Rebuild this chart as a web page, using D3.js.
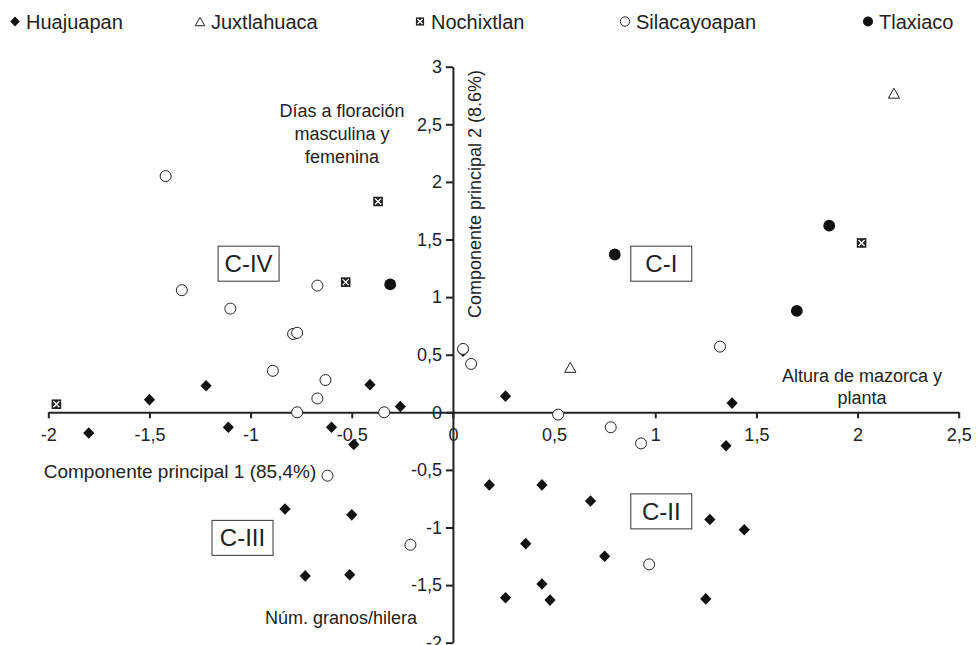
<!DOCTYPE html>
<html>
<head>
<meta charset="utf-8">
<script src="https://cdn.jsdelivr.net/npm/d3@7"></script>
<style>
  body { margin: 0; background: #fff; }
  svg text { font-family: "Liberation Sans", Arial, sans-serif; fill: #222; }
</style>
</head>
<body>
<div class="visHolder"></div>
<script>
// Series (PC1, PC2)
const huajuapan = [
  [-1.80, -0.18], [-1.50, 0.11], [-1.22, 0.23], [-1.11, -0.13], [-0.83, -0.84],
  [-0.73, -1.42], [-0.60, -0.13], [-0.51, -1.41], [-0.50, -0.89], [-0.49, -0.28],
  [-0.41, 0.24], [-0.26, 0.05], [0.05, 0.53], [0.18, -0.63], [0.26, 0.14],
  [0.26, -1.61], [0.36, -1.14], [0.44, -1.49], [0.44, -0.63], [0.48, -1.63],
  [0.68, -0.77], [0.75, -1.25], [1.25, -1.62], [1.27, -0.93], [1.35, -0.29],
  [1.38, 0.08], [1.44, -1.02]
];
const juxtlahuaca = [[0.58, 0.39], [2.18, 2.77]];
const nochixtlan = [[-1.96, 0.07], [-0.37, 1.83], [-0.53, 1.13], [2.02, 1.47]];
const silacayoapan = [
  [-1.42, 2.05], [-1.34, 1.06], [-1.10, 0.90], [-0.79, 0.68], [-0.77, 0.69],
  [-0.67, 1.10], [-0.89, 0.36], [-0.63, 0.28], [-0.67, 0.12], [-0.77, 0.00],
  [-0.34, 0.00], [0.05, 0.55], [0.09, 0.42], [0.52, -0.02], [0.78, -0.13],
  [0.93, -0.27], [1.32, 0.57], [-0.62, -0.55], [-0.21, -1.15], [0.97, -1.32]
];
const tlaxiaco = [[-0.31, 1.11], [0.80, 1.37], [1.86, 1.62], [1.70, 0.88]];

const seriesNames = ["Huajuapan", "Juxtlahuaca", "Nochixtlan", "Silacayoapan", "Tlaxiaco"];
const seriesData = [huajuapan, juxtlahuaca, nochixtlan, silacayoapan, tlaxiaco];

const xTicks = [-2, -1.5, -1, -0.5, 0, 0.5, 1, 1.5, 2, 2.5];
const yTicks = [-2, -1.5, -1, -0.5, 0, 0.5, 1, 1.5, 2, 2.5, 3];

const quadrantNames = ["C-IV", "C-I", "C-III", "C-II"];
const quadrantCenters = [[-1.01, 1.29], [1.03, 1.29], [-1.04, -1.09], [1.03, -0.86]];

const width = 977, height = 645;

const svg = d3.select(".visHolder").append("svg")
    .attr("width", width)
    .attr("height", height);

// Scales
const x = d3.scaleLinear().domain([-2, 2.5]).range([48.3, 958.7]);
const y = d3.scaleLinear().domain([-2, 3]).range([642.7, 66.7]);

const fmt = d => String(d).replace(".", ",");

// Axes crossing at the origin
const xAxis = d3.axisBottom(x).tickValues(xTicks).tickFormat(fmt)
    .tickSizeInner(6).tickSizeOuter(0).tickPadding(10);
const yAxis = d3.axisLeft(y).tickValues(yTicks).tickFormat(fmt)
    .tickSizeInner(7).tickSizeOuter(0).tickPadding(4);

const gx = svg.append("g")
    .attr("transform", "translate(0," + y(0) + ")")
    .call(xAxis);
const gy = svg.append("g")
    .attr("transform", "translate(" + x(0) + ",0)")
    .call(yAxis);

[gx, gy].forEach(g => {
  g.select(".domain").attr("stroke", "#222").attr("stroke-width", 2);
  g.selectAll(".tick line").attr("stroke", "#222").attr("stroke-width", 2);
  g.selectAll(".tick text").style("font-size", "18px").attr("fill", "#222");
});

// Axis titles and loading annotations
svg.append("text")
    .attr("transform", "translate(481,194) rotate(-90)")
    .attr("text-anchor", "middle")
    .style("font-size", "18px")
    .text("Componente principal 2 (8.6%)");

svg.append("text")
    .attr("x", 180).attr("y", 478)
    .attr("text-anchor", "middle")
    .style("font-size", "19px")
    .text("Componente principal 1 (85,4%)");

function multiLine(lines, cx, y0, lh) {
  const t = svg.append("text")
      .attr("text-anchor", "middle")
      .style("font-size", "18px");
  lines.forEach((l, i) => {
    t.append("tspan").attr("x", cx).attr("y", y0 + i * lh).text(l);
  });
}
multiLine(["Días a floración", "masculina y", "femenina"], 342, 117, 23);
multiLine(["Altura de mazorca y", "planta"], 862, 382, 22);
multiLine(["Núm. granos/hilera"], 341, 624, 22);

// Quadrant boxes
const qg = svg.selectAll(".quad")
    .data(quadrantNames)
    .enter().append("g")
    .attr("class", "quad")
    .attr("transform", (d, i) => "translate(" + x(quadrantCenters[i][0]) + "," + y(quadrantCenters[i][1]) + ")");
qg.append("rect")
    .attr("x", -30.5).attr("y", -17.5)
    .attr("width", 61).attr("height", 35)
    .attr("fill", "#fff").attr("stroke", "#333").attr("stroke-width", 1);
qg.append("text")
    .attr("text-anchor", "middle")
    .attr("y", 8.5)
    .style("font-size", "24px")
    .text(d => d);

// Marker drawers
function drawMarker(g, name, s) {
  if (name === "Huajuapan") {
    const w = 5.6 * s, h = 5.8 * s;
    g.append("path").attr("d", `M0,${-h}L${w},0L0,${h}L${-w},0Z`).attr("fill", "#111");
  } else if (name === "Juxtlahuaca") {
    const w = 5.6 * s, h = 5 * s;
    g.append("path").attr("d", `M0,${-h}L${w},${h}L${-w},${h}Z`)
      .attr("fill", "#fff").attr("stroke", "#222").attr("stroke-width", 1);
  } else if (name === "Nochixtlan") {
    const a = 4.8 * s, b = 3 * s;
    g.append("rect").attr("x", -a).attr("y", -a).attr("width", 2 * a).attr("height", 2 * a).attr("fill", "#222");
    g.append("path").attr("d", `M${-b},${-b}L${b},${b}M${b},${-b}L${-b},${b}`)
      .attr("stroke", "#fff").attr("stroke-width", 1.3);
  } else if (name === "Silacayoapan") {
    g.append("circle").attr("r", 5.5 * s)
      .attr("fill", "#fff").attr("stroke", "#222").attr("stroke-width", 1);
  } else {
    g.append("circle").attr("r", 5.9 * s).attr("fill", "#111");
  }
}

// Points
seriesNames.forEach((name, i) => {
  svg.append("g").selectAll("g")
    .data(seriesData[i])
    .enter().append("g")
    .attr("transform", d => "translate(" + x(d[0]) + "," + y(d[1]) + ")")
    .each(function() { drawMarker(d3.select(this), name, 1); });
});

// Legend
const legendX = [15, 200, 420, 625, 868];
seriesNames.forEach((name, i) => {
  const lg = svg.append("g").attr("transform", "translate(" + legendX[i] + ",21.5)");
  drawMarker(lg, name, 0.85);
  lg.append("text")
    .attr("x", 11).attr("y", 7)
    .style("font-size", "20px")
    .text(name);
});
</script>
</body>
</html>
